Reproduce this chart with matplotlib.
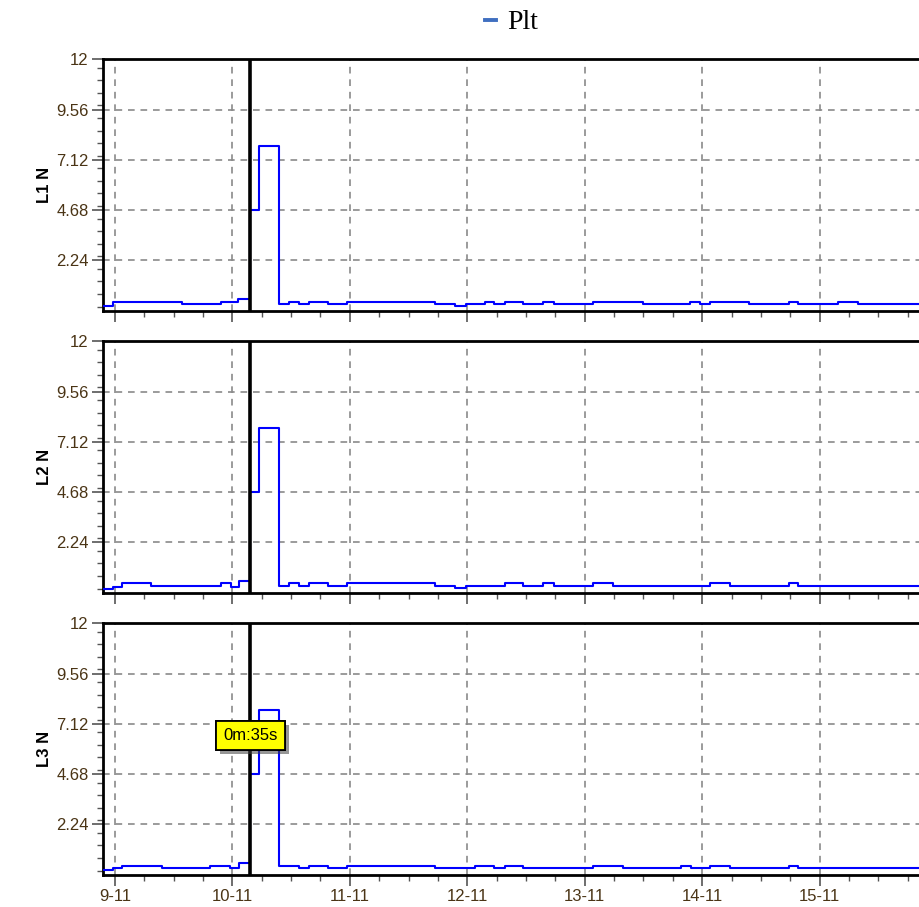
import matplotlib

matplotlib.use("Agg")

import matplotlib.patheffects as pe
import matplotlib.pyplot as plt
from matplotlib.ticker import FixedLocator, FuncFormatter, MultipleLocator

# hours since 9-11 00:00; each value holds from its edge to the next edge
L1_EDGES = [-3, -0.35, 13.63, 21.60, 25.20, 27.69, 29.43, 33.45, 35.62, 37.60, 39.64, 43.46,
            47.47, 65.39, 69.48, 71.66, 75.61, 77.51, 79.69, 83.43, 87.52, 89.71, 97.74,
            107.83, 117.50, 119.54, 121.58, 129.61, 137.73, 139.63, 147.80, 151.89, 170]
L1_VALUES = [0.03, 0.24, 0.12, 0.24, 0.37, 4.68, 7.81, 0.12, 0.24, 0.12, 0.24, 0.12,
             0.24, 0.12, 0.03, 0.12, 0.24, 0.12, 0.24, 0.12, 0.24, 0.12, 0.24,
             0.12, 0.24, 0.12, 0.24, 0.12, 0.24, 0.12, 0.24, 0.12]

L2_EDGES = [-3, -0.35, 1.37, 7.30, 21.60, 23.64, 25.40, 27.69, 29.43, 33.45, 35.62, 37.60,
            39.64, 43.46, 47.47, 65.39, 69.48, 71.66, 79.69, 83.43, 87.52, 89.71, 97.74,
            101.83, 121.58, 125.67, 137.73, 139.63, 170]
L2_VALUES = [0.0, 0.09, 0.26, 0.12, 0.26, 0.09, 0.38, 4.68, 7.81, 0.12, 0.26, 0.12,
             0.26, 0.12, 0.26, 0.12, 0.01, 0.12, 0.26, 0.12, 0.26, 0.12, 0.26,
             0.12, 0.26, 0.12, 0.26, 0.12]

L3_EDGES = [-3, -0.35, 1.37, 9.54, 19.41, 23.50, 25.40, 27.69, 29.43, 33.45, 37.60, 39.64,
            43.46, 47.47, 65.39, 73.56, 77.51, 79.69, 83.43, 97.74, 103.74, 115.66, 117.70,
            121.58, 125.67, 137.73, 139.63, 170]
L3_VALUES = [0.03, 0.11, 0.22, 0.11, 0.22, 0.11, 0.35, 4.68, 7.81, 0.22, 0.11, 0.22,
             0.11, 0.22, 0.11, 0.22, 0.11, 0.22, 0.11, 0.22, 0.11, 0.22, 0.11,
             0.22, 0.11, 0.22, 0.11]

PANELS = [("L1 N", L1_EDGES, L1_VALUES), ("L2 N", L2_EDGES, L2_VALUES), ("L3 N", L3_EDGES, L3_VALUES)]
Y_TICKS = [2.24, 4.68, 7.12, 9.56, 12]
DAY_LABELS = ["9-11", "10-11", "11-11", "12-11", "13-11", "14-11", "15-11"]
CURSOR_HOUR = 27.69
CURSOR_TEXT = "0m:35s"

TICK_COLOR = "#4a3415"
FONT = "Liberation Sans"

fig = plt.figure(figsize=(9.2, 9.07), dpi=100, facecolor="white")

# (bottom, height) in figure fraction for each strip
boxes = [(0.6574, 0.2772), (0.3465, 0.2772), (0.0356, 0.2772)]
axes = []
for (label, edges, values), (bottom, height) in zip(PANELS, boxes):
    ax = fig.add_axes([0.1116, bottom, 1.0 - 0.1116, height])
    ax.step(edges, values + [values[-1]], where="post", color="#0000ff", lw=1.5, zorder=3, label="Plt")
    ax.axvline(CURSOR_HOUR, color="black", lw=2.6, zorder=4)
    ax.set_xlim(-2.51, 164.5)
    ax.set_ylim(-0.2, 12)

    ax.yaxis.set_major_locator(FixedLocator(Y_TICKS))
    ax.yaxis.set_minor_locator(MultipleLocator(0.61))
    ax.xaxis.set_major_locator(MultipleLocator(24))
    ax.xaxis.set_minor_locator(MultipleLocator(6))
    ax.xaxis.set_major_formatter(FuncFormatter(lambda v, p: DAY_LABELS[int(round(v / 24))] if 0 <= round(v / 24) < len(DAY_LABELS) else ""))
    ax.yaxis.set_major_formatter(FuncFormatter(lambda v, p: f"{v:g}"))

    ax.grid(True, which="major", color="#8a8a8a", ls=(0, (4, 3.5)), lw=1.2)
    ax.tick_params(axis="both", which="major", direction="out", length=8, width=1.2, color="#555555",
                   labelsize=12, labelcolor=TICK_COLOR, pad=2)
    ax.tick_params(axis="both", which="minor", direction="out", length=4.5, width=1.0, color="#555555")
    for t in ax.get_xticklabels() + ax.get_yticklabels():
        t.set_fontfamily(FONT)
        t.set_fontstretch("condensed")
    for side in ("top", "bottom", "left"):
        ax.spines[side].set_linewidth(2)
        ax.spines[side].set_color("black")
    ax.spines["right"].set_visible(False)
    ax.set_ylabel(label, fontsize=12, fontweight="bold", family=FONT, labelpad=3)
    axes.append(ax)

for ax in axes[:-1]:
    ax.tick_params(axis="x", which="both", labelbottom=False)

cursor = axes[2].text(CURSOR_HOUR, 6.57, CURSOR_TEXT, ha="center", va="center", fontsize=12,
                      family=FONT, color="black", zorder=6,
                      bbox=dict(boxstyle="square,pad=0.42", facecolor="#ffff00", edgecolor="black", lw=1.3))
cursor.get_bbox_patch().set_path_effects([pe.withSimplePatchShadow(offset=(3, -3), shadow_rgbFace="#404040", alpha=0.55), pe.Normal()])

handles, labels = axes[0].get_legend_handles_labels()
leg = fig.legend(handles, labels, loc="center", bbox_to_anchor=(0.556, 0.975), frameon=False,
                 handlelength=0.38, handletextpad=0.4, prop={"family": "Liberation Serif", "size": 20})
for h in leg.legend_handles:
    h.set_color("#3f6fc0")
    h.set_linewidth(2.8)

fig.savefig("out.png", dpi=100)
